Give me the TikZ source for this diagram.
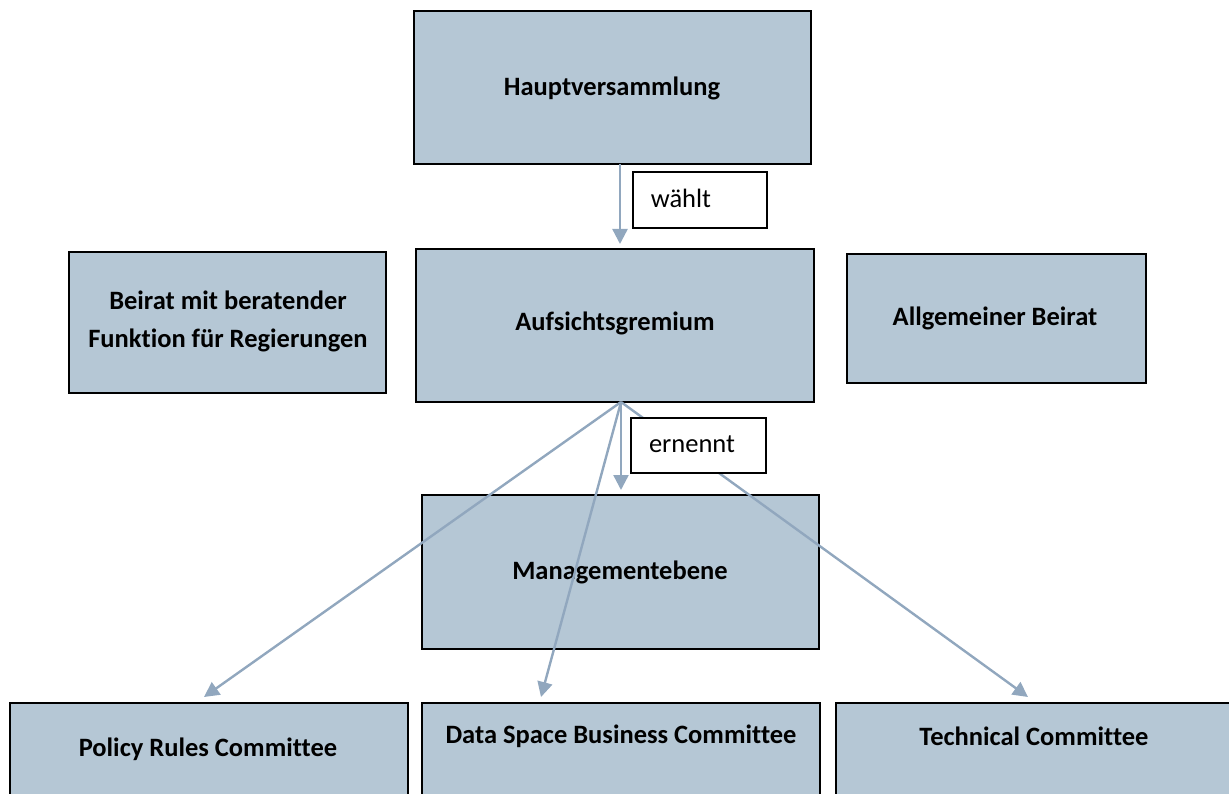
\documentclass[tikz,border=0pt]{standalone}
\usepackage{fontspec}
\setmainfont{Carlito}[Ligatures={NoCommon}]
\usetikzlibrary{arrows.meta}
\definecolor{boxfill}{RGB}{181,199,213}
\definecolor{arr}{RGB}{145,167,190}
\tikzset{
  orgbox/.style={draw=black, line width=2.6pt, fill=boxfill},
  boxtext/.style={font=\fontsize{26.5}{38}\selectfont\bfseries, align=center},
  lbltext/.style={font=\fontsize{26.5}{32}\selectfont},
  lblbox/.style={draw=black, line width=1.6pt, fill=white},
  conn/.style={draw=arr, line width=2.4pt, -{Triangle[length=15pt,width=15pt]}}
}
\begin{document}
\begin{tikzpicture}[x=1pt,y=-1pt]
\useasboundingbox (0,0) rectangle (1229,794);
\clip (0,0) rectangle (1229,794);
% boxes
\path[orgbox] (414,11) rectangle (811,164);
\node[boxtext] (hv) at (612,88) {Hauptversammlung};
\coordinate (hvb) at (620,164);
\path[orgbox] (416,249) rectangle (814,402);
\node[boxtext] (ag) at (615,323) {Aufsichtsgremium};
\coordinate (agt) at (620,244);
\coordinate (agb) at (621,402);
\path[orgbox] (69,252) rectangle (386,393);
\node[boxtext] (br) at (228,321) {Beirat mit beratender\\Funktion für Regierungen};
\path[orgbox] (847,254) rectangle (1146,383);
\node[boxtext] (ab) at (995,318) {Allgemeiner Beirat};
\path[orgbox] (422,495) rectangle (819,649);
\node[boxtext] (me) at (620,572) {Managementebene};
\path[orgbox] (10,703) rectangle (408,810);
\node[boxtext] (pr) at (208,749) {Policy Rules Committee};
\path[orgbox] (422,703) rectangle (820,810);
\node[boxtext] (ds) at (621,736) {Data Space Business Committee};
\path[orgbox] (836,703) rectangle (1240,810);
\node[boxtext] (tc) at (1034,736) {Technical Committee};
\coordinate (prt) at (204,697);
\coordinate (dst) at (541,697);
\coordinate (met) at (621,490);
\coordinate (tct) at (1028,697);
% connectors
\draw[conn] (hvb) -- (agt);
\draw[conn] (agb) -- (prt);
\draw[conn] (agb) -- (dst);
\draw[conn] (agb) -- (met);
\draw[conn] (agb) -- (tct);
% labels
\node[lblbox, minimum width=134pt, minimum height=56pt, anchor=north west] (w) at (632,171) {};
\node[lbltext] (wt) at (681,198) {wählt};
\node[lblbox, minimum width=135pt, minimum height=55pt, anchor=north west] (e) at (630,417) {};
\node[lbltext] (et) at (692,444) {ernennt};
\end{tikzpicture}
\end{document}
